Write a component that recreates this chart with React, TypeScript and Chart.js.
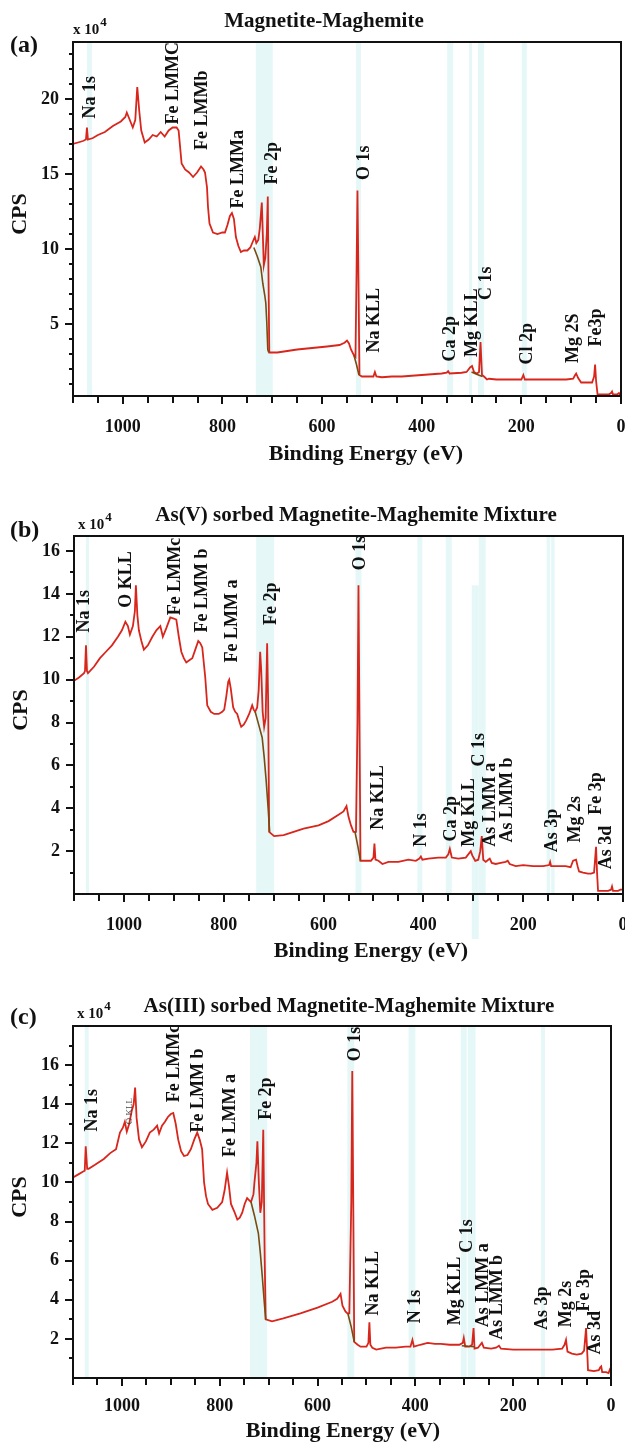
import React, { useEffect, useRef } from "react";
import { Chart, registerables } from "chart.js";

Chart.register(...registerables);

const FONT = "'Liberation Serif', 'Times New Roman', serif";
const RED = "#d8261c";
const BROWN = "#7a4a10";
const BAND = "rgba(222, 244, 246, 0.75)";

// ---------- axis ticks ----------
const X_MAJOR = [0, 200, 400, 600, 800, 1000];
const X_MINOR = [50, 100, 150, 250, 300, 350, 450, 500, 550, 650, 700, 750, 850, 900, 950, 1050, 1100];
const A_Y_MAJOR = [5, 10, 15, 20];
const A_Y_MINOR = [1, 2, 3, 4, 6, 7, 8, 9, 11, 12, 13, 14, 16, 17, 18, 19, 21, 22, 23];
const BC_Y_MAJOR = [2, 4, 6, 8, 10, 12, 14, 16];
const B_Y_MINOR = [1, 3, 5, 7, 9, 11, 13, 15];
const C_Y_MINOR = [1, 3, 5, 7, 9, 11, 13, 15, 17];

// ---------- panel (a) : Magnetite-Maghemite ----------  [binding energy eV, CPS x1e4]
const A_SURVEY = [
  [1100, 17.0], [1090, 17.1], [1080, 17.2], [1074, 17.3], [1072, 18.1], [1070, 17.3], [1060, 17.4], [1050, 17.6],
  [1036, 17.8], [1020, 18.2], [1004, 18.5], [995, 18.8], [992, 19.1], [986, 18.6], [980, 18.1], [975, 18.6],
  [971, 20.8], [967, 19.2], [963, 17.9], [956, 17.1], [948, 17.3], [940, 17.6], [932, 17.5], [924, 17.8],
  [916, 17.5], [908, 17.9], [900, 18.1], [892, 18.1], [888, 17.9], [885, 16.8], [882, 15.7], [875, 15.3],
  [867, 15.1], [859, 14.8], [851, 15.1], [843, 15.5], [838, 15.3], [835, 15.1], [831, 14.1], [829, 12.8],
  [826, 11.7], [819, 11.1], [810, 11.0], [800, 11.1], [795, 11.1], [790, 11.6], [785, 12.2], [781, 12.4],
  [777, 12.0], [773, 10.8], [768, 10.2], [763, 9.8], [757, 9.9], [750, 9.9], [744, 10.1], [739, 10.5],
  [735, 10.8], [732, 10.4], [728, 10.6], [725, 11.4], [721, 13.1], [719, 11.0], [717, 8.9], [714, 9.4],
  [711, 11.0], [709, 13.5], [707.5, 8.0], [706, 3.1], [700, 3.1], [690, 3.1], [680, 3.15], [650, 3.3],
  [620, 3.4], [590, 3.5], [565, 3.6], [555, 3.75], [550, 3.9], [546, 3.7], [542, 3.3], [536, 2.9],
  [533, 2.8], [531, 8.0], [529, 13.9], [527, 8.0], [525, 1.6], [520, 1.5], [505, 1.5], [497, 1.5],
  [494, 1.8], [491, 1.5], [480, 1.45], [460, 1.5], [440, 1.5], [420, 1.55], [400, 1.6], [380, 1.65],
  [360, 1.7], [350, 1.75], [347, 1.85], [344, 1.7], [320, 1.75], [310, 1.8], [303, 2.1], [299, 2.2],
  [295, 1.8], [289, 1.7], [285, 1.8], [282, 3.8], [279, 1.6], [275, 1.5], [269, 1.3], [265, 1.35],
  [250, 1.3], [220, 1.3], [200, 1.3], [196, 1.6], [193, 1.3], [170, 1.3], [140, 1.3], [110, 1.3],
  [96, 1.35], [92, 1.6], [90, 1.7], [86, 1.4], [80, 1.1], [70, 1.1], [58, 1.1], [54, 1.5],
  [52, 2.3], [50, 1.2], [47, 0.3], [40, 0.3], [25, 0.3], [20, 0.4], [18, 0.5], [16, 0.3],
  [8, 0.3], [4, 0.4], [2, 0.3], [0, 0.3],
];
const A_BG_FE = [[737, 10.1], [730, 9.5], [723, 8.8], [719, 7.7], [715, 6.9], [713, 6.4], [711, 5.1], [709, 3.3], [707, 3.1]];
const A_BG_O = [[536, 2.9], [531, 2.3], [526, 1.6]];
const A_BG_C = [[300, 1.8], [290, 1.65], [278, 1.5]];
const A_BANDS = [[1072, 1062], [733, 699], [532, 522], [349, 337], [305, 299], [287, 275], [199, 189]];
const A_LABELS = ["Na 1s", "Fe LMMC", "Fe LMMb", "Fe LMMa", "Fe 2p", "O 1s", "Na KLL", "Ca 2p", "Mg KLL", "C 1s", "Cl 2p", "Mg 2S", "Fe3p"];
const A_LABEL_EV = [1066, 898, 841, 769, 699, 516, 496, 343, 299, 271, 187, 96, 50];
const A_LABEL_CPS = [18.7, 18.3, 16.6, 12.7, 14.3, 14.6, 3.1, 2.5, 2.8, 6.6, 2.3, 2.4, 3.5];

// ---------- panel (b) : As(V) sorbed ----------
const B_SURVEY = [
  [1100, 9.95], [1090, 10.1], [1080, 10.3], [1078, 10.4], [1076, 11.6], [1074, 10.4], [1072, 10.3], [1060, 10.6],
  [1048, 11.0], [1036, 11.3], [1024, 11.6], [1012, 12.0], [1004, 12.3], [997, 12.7], [992, 12.5], [988, 12.1],
  [982, 12.5], [978, 13.2], [976, 14.4], [973, 13.0], [970, 12.3], [965, 11.8], [960, 11.4], [952, 11.6],
  [943, 12.0], [935, 12.3], [927, 12.5], [922, 12.0], [915, 12.4], [907, 12.9], [900, 12.85], [895, 12.8],
  [890, 12.0], [885, 11.3], [880, 11.0], [875, 10.8], [869, 10.9], [863, 11.0], [857, 11.4], [851, 11.8],
  [847, 11.7], [843, 11.5], [840, 10.8], [837, 10.1], [833, 8.8], [826, 8.5], [819, 8.4], [810, 8.4],
  [803, 8.5], [799, 8.6], [795, 9.2], [791, 9.9], [789, 10.0], [786, 9.6], [781, 8.7], [777, 8.5],
  [773, 8.4], [768, 8.0], [765, 7.8], [760, 7.9], [755, 8.1], [749, 8.4], [743, 8.8], [740, 8.6],
  [737, 8.5], [733, 8.7], [730, 9.5], [727, 11.3], [725, 10.5], [722, 8.5], [719, 7.8], [716, 8.2],
  [713, 11.7], [711, 9.0], [709, 2.9], [699, 2.7], [680, 2.75], [660, 2.9], [640, 3.05], [610, 3.2],
  [590, 3.4], [570, 3.7], [560, 3.85], [554, 4.1], [550, 3.6], [545, 3.2], [540, 2.9], [535, 2.9],
  [532, 8.0], [530, 14.4], [528, 8.0], [526, 1.55], [515, 1.55], [505, 1.55], [500, 1.7], [498, 2.35],
  [496, 1.6], [490, 1.55], [482, 1.4], [470, 1.5], [450, 1.5], [430, 1.6], [415, 1.55], [408, 1.65],
  [405, 1.75], [402, 1.6], [390, 1.65], [370, 1.7], [355, 1.7], [350, 1.85], [347, 2.1], [343, 1.7],
  [330, 1.65], [315, 1.7], [305, 2.0], [302, 1.8], [296, 1.55], [290, 1.6], [286, 2.0], [283, 2.7],
  [280, 1.6], [275, 1.5], [270, 1.6], [267, 1.65], [263, 1.45], [255, 1.4], [245, 1.45], [235, 1.5],
  [231, 1.55], [227, 1.4], [215, 1.3], [200, 1.35], [180, 1.3], [160, 1.3], [148, 1.35], [146, 1.5],
  [144, 1.3], [130, 1.3], [115, 1.3], [105, 1.25], [100, 1.55], [94, 1.6], [91, 1.3], [88, 1.05],
  [80, 1.0], [70, 0.95], [64, 0.95], [58, 1.0], [56, 1.6], [54, 2.2], [52, 1.0], [50, 0.15],
  [40, 0.15], [30, 0.15], [24, 0.2], [22, 0.35], [20, 0.15], [10, 0.15], [5, 0.2], [0, 0.2],
];
const B_BG_FE = [[737, 8.5], [730, 7.9], [723, 7.3], [719, 6.4], [715, 5.3], [711, 4.0], [708, 2.9]];
const B_BG_O = [[537, 2.9], [531, 2.2], [526, 1.55]];
// [from eV, to eV, optional top CPS, optional bottom CPS]
const B_BANDS = [[1076, 1070], [735, 699], [536, 524], [412, 402], [355, 343], [289, 275], [303, 289, 14.4, -2.1], [153, 146], [144, 137]];
const B_LABELS = ["Na 1s", "O KLL", "Fe LMMc", "Fe LMM b", "Fe LMM a", "Fe 2p", "O 1s", "Na KLL", "N 1s", "Ca 2p", "Mg KLL", "C 1s", "As LMM a", "As LMM b", "As 3p", "Mg 2s", "Fe 3p", "As 3d"];
const B_LABEL_EV = [1080, 996, 896, 843, 783, 705, 526, 490, 404, 343, 307, 287, 265, 231, 141, 96, 54, 34];
const B_LABEL_CPS = [12.2, 13.35, 13.0, 12.2, 10.8, 12.55, 15.1, 3.0, 2.2, 2.45, 2.2, 5.95, 2.2, 2.4, 1.95, 2.4, 3.7, 1.15];

// ---------- panel (c) : As(III) sorbed ----------
const C_SURVEY = [
  [1100, 10.25], [1090, 10.4], [1080, 10.55], [1076, 10.6], [1074, 11.85], [1071, 10.7], [1068, 10.7], [1055, 10.9],
  [1037, 11.2], [1024, 11.5], [1012, 11.7], [1004, 12.55], [998, 12.8], [994, 13.1], [990, 12.6], [985, 13.0],
  [980, 13.65], [976, 14.0], [973, 14.85], [970, 13.3], [965, 12.2], [959, 11.8], [951, 12.1], [943, 12.55],
  [935, 12.7], [928, 12.9], [924, 12.5], [918, 12.9], [912, 13.1], [906, 13.35], [900, 13.5], [895, 13.55],
  [890, 13.0], [885, 12.2], [879, 11.6], [873, 11.35], [866, 11.4], [859, 11.7], [852, 12.2], [846, 12.55],
  [841, 12.2], [836, 11.7], [832, 10.0], [828, 9.3], [824, 8.9], [815, 8.6], [805, 8.7], [795, 9.0],
  [790, 9.6], [785, 10.5], [781, 9.8], [777, 8.9], [770, 8.5], [764, 8.1], [759, 8.2], [754, 8.45],
  [749, 8.9], [744, 9.2], [740, 9.1], [736, 9.0], [731, 9.4], [729, 10.0], [725, 11.0], [723, 12.1],
  [720, 10.0], [717, 8.45], [714, 9.0], [711, 12.7], [708, 6.0], [706, 3.0], [693, 2.9], [670, 3.05],
  [635, 3.3], [600, 3.6], [570, 3.9], [560, 4.05], [553, 4.3], [549, 3.7], [543, 3.4], [539, 3.3],
  [535, 3.3], [531, 9.0], [529, 15.7], [527, 9.0], [525, 1.85], [518, 1.7], [512, 1.6], [500, 1.6],
  [496, 1.8], [494, 2.85], [492, 1.7], [488, 1.55], [480, 1.45], [460, 1.55], [440, 1.55], [420, 1.6],
  [410, 1.6], [406, 1.95], [403, 1.6], [390, 1.7], [375, 1.8], [360, 1.75], [348, 1.75], [330, 1.7],
  [310, 1.7], [303, 1.8], [301, 2.05], [298, 1.6], [290, 1.6], [284, 1.7], [281, 2.55], [279, 1.5],
  [272, 1.55], [264, 1.8], [260, 1.55], [245, 1.5], [235, 1.55], [229, 1.65], [225, 1.5], [200, 1.45],
  [170, 1.45], [140, 1.45], [120, 1.45], [100, 1.5], [95, 1.7], [92, 1.95], [89, 1.35], [80, 1.25],
  [70, 1.2], [60, 1.25], [55, 1.4], [51, 2.55], [48, 1.0], [47, 0.4], [35, 0.35], [25, 0.4],
  [22, 0.55], [20, 0.6], [18, 0.3], [10, 0.3], [5, 0.25], [2, 0.45], [0, 0.4],
];
const C_BG_FE = [[736, 9.0], [729, 8.3], [721, 7.4], [717, 6.4], [713, 5.2], [709, 3.9], [706, 3.0]];
const C_BG_O = [[538, 3.3], [531, 2.6], [525, 1.85]];
const C_BG_C = [[305, 1.65], [292, 1.62], [279, 1.6]];
const C_BANDS = [[1076, 1068], [738, 703], [539, 525], [414, 400], [307, 295], [293, 277], [143, 135]];
const C_LABELS = ["Na 1s", "Fe LMMc", "Fe LMM b", "Fe LMM a", "Fe 2p", "O 1s", "Na KLL", "N 1s", "Mg KLL", "C 1s", "As LMM a", "As LMM b", "As 3p", "Mg 2s", "Fe 3p", "As 3d"];
const C_LABEL_EV = [1061, 893, 844, 779, 705, 523, 486, 400, 318, 293, 260, 232, 141, 92, 55, 31];
const C_LABEL_CPS = [12.6, 14.1, 12.55, 11.3, 13.2, 16.2, 3.2, 2.8, 2.7, 6.4, 2.6, 1.95, 2.45, 2.6, 3.4, 1.2];
const C_SMALL_LABELS = ["O KLL"];
const C_SMALL_EV = [984];
const C_SMALL_CPS = [12.97];

type PanelCfg = {
  key: string;
  top: number;
  height: number;
  padTop: number;
  padRight: number;
  yWidth: number;
  xHeight: number;
  tickPad: number;
  yMin: number;
  yMax: number;
  yMajor: number[];
  yMinor: number[];
  survey: number[][];
  bgs: number[][][];
  bands: number[][];
  labels: string[];
  labelEv: number[];
  labelCps: number[];
  smallLabels?: string[];
  smallEv?: number[];
  smallCps?: number[];
  title: string;
  titleX: number;
  titleY: number;
  letter: string;
  letterY: number;
  expX: number;
  expY: number;
  cpsX: number;
  cpsY: number;
  xTitleX: number;
  xTitleY: number;
};

const PANELS: PanelCfg[] = [
  {
    key: "a", top: 0, height: 480, padTop: 42, padRight: 4, yWidth: 73, xHeight: 84, tickPad: 21,
    yMin: 0.2, yMax: 23.8, yMajor: A_Y_MAJOR, yMinor: A_Y_MINOR,
    survey: A_SURVEY, bgs: [A_BG_FE, A_BG_O, A_BG_C], bands: A_BANDS,
    labels: A_LABELS, labelEv: A_LABEL_EV, labelCps: A_LABEL_CPS,
    title: "Magnetite-Maghemite", titleX: 324, titleY: 22, letter: "(a)", letterY: 46,
    expX: 73, expY: 30, cpsX: 20, cpsY: 214, xTitleX: 366, xTitleY: 454,
  },
  {
    key: "b", top: 480, height: 485, padTop: 56, padRight: 2, yWidth: 74, xHeight: 71, tickPad: 21,
    yMin: 0, yMax: 16.7, yMajor: BC_Y_MAJOR, yMinor: B_Y_MINOR,
    survey: B_SURVEY, bgs: [B_BG_FE, B_BG_O], bands: B_BANDS,
    labels: B_LABELS, labelEv: B_LABEL_EV, labelCps: B_LABEL_CPS,
    title: "As(V) sorbed Magnetite-Maghemite Mixture", titleX: 356, titleY: 36, letter: "(b)", letterY: 51,
    expX: 78, expY: 45, cpsX: 21, cpsY: 230, xTitleX: 371, xTitleY: 471,
  },
  {
    key: "c", top: 965, height: 478, padTop: 61, padRight: 14, yWidth: 73, xHeight: 65, tickPad: 18,
    yMin: 0, yMax: 18, yMajor: BC_Y_MAJOR, yMinor: C_Y_MINOR,
    survey: C_SURVEY, bgs: [C_BG_FE, C_BG_O, C_BG_C], bands: C_BANDS,
    labels: C_LABELS, labelEv: C_LABEL_EV, labelCps: C_LABEL_CPS,
    smallLabels: C_SMALL_LABELS, smallEv: C_SMALL_EV, smallCps: C_SMALL_CPS,
    title: "As(III) sorbed Magnetite-Maghemite Mixture", titleX: 349, titleY: 42, letter: "(c)", letterY: 53,
    expX: 77, expY: 49, cpsX: 20, cpsY: 232, xTitleX: 343, xTitleY: 466,
  },
];

function makeDecor(cfg: PanelCfg) {
  return {
    id: "decor_" + cfg.key,
    beforeDatasetsDraw(chart: any) {
      const { ctx, chartArea: ca, scales } = chart;
      const x = scales.x;
      const y = scales.y;
      ctx.save();
      ctx.fillStyle = BAND;
      for (const b of cfg.bands) {
        const x1 = x.getPixelForValue(b[0]);
        const x2 = x.getPixelForValue(b[1]);
        const yt = b.length > 2 ? y.getPixelForValue(b[2]) : ca.top;
        const yb = b.length > 3 ? y.getPixelForValue(b[3]) : ca.bottom;
        ctx.fillRect(Math.min(x1, x2), yt, Math.abs(x2 - x1), yb - yt);
      }
      ctx.restore();
    },
    afterDraw(chart: any) {
      const { ctx, chartArea: ca, scales } = chart;
      const x = scales.x;
      const y = scales.y;
      ctx.save();
      // frame
      ctx.strokeStyle = "#111";
      ctx.lineWidth = 2;
      ctx.strokeRect(ca.left, ca.top, ca.right - ca.left, ca.bottom - ca.top);
      // ticks
      ctx.beginPath();
      for (const v of X_MAJOR) {
        const px = Math.round(x.getPixelForValue(v));
        ctx.moveTo(px, ca.bottom);
        ctx.lineTo(px, ca.bottom + 8);
      }
      for (const v of X_MINOR) {
        const px = Math.round(x.getPixelForValue(v));
        ctx.moveTo(px, ca.bottom);
        ctx.lineTo(px, ca.bottom + 7);
      }
      for (const v of cfg.yMajor) {
        const py = Math.round(y.getPixelForValue(v));
        ctx.moveTo(ca.left, py);
        ctx.lineTo(ca.left - 8, py);
      }
      for (const v of cfg.yMinor) {
        const py = Math.round(y.getPixelForValue(v));
        ctx.moveTo(ca.left, py);
        ctx.lineTo(ca.left - 4, py);
      }
      ctx.stroke();

      ctx.fillStyle = "#111";
      // peak labels (rotated, reading bottom to top)
      ctx.font = `bold 18px ${FONT}`;
      ctx.textAlign = "left";
      ctx.textBaseline = "middle";
      cfg.labels.forEach((t, i) => {
        const px = x.getPixelForValue(cfg.labelEv[i]);
        const py = y.getPixelForValue(cfg.labelCps[i]);
        ctx.save();
        ctx.translate(px, py);
        ctx.rotate(-Math.PI / 2);
        ctx.fillText(t, 0, 0);
        ctx.restore();
      });
      if (cfg.smallLabels) {
        ctx.font = `9px ${FONT}`;
        ctx.fillStyle = "#444";
        cfg.smallLabels.forEach((t, i) => {
          const px = x.getPixelForValue(cfg.smallEv![i]);
          const py = y.getPixelForValue(cfg.smallCps![i]);
          ctx.save();
          ctx.translate(px, py);
          ctx.rotate(-Math.PI / 2);
          ctx.fillText(t, 0, 0);
          ctx.restore();
        });
        ctx.fillStyle = "#111";
      }
      // title
      ctx.font = `bold 21px ${FONT}`;
      ctx.textAlign = "center";
      ctx.textBaseline = "middle";
      ctx.fillText(cfg.title, cfg.titleX, cfg.titleY);
      // panel letter
      ctx.font = `bold 24px ${FONT}`;
      ctx.textAlign = "left";
      ctx.fillText(cfg.letter, 10, cfg.letterY);
      // exponent
      ctx.font = `bold 15px ${FONT}`;
      ctx.fillText("x 10", cfg.expX, cfg.expY);
      const w = ctx.measureText("x 10").width;
      ctx.font = `bold 13px ${FONT}`;
      ctx.fillText("4", cfg.expX + w + 1, cfg.expY - 7);
      // axis titles
      ctx.font = `bold 22px ${FONT}`;
      ctx.textAlign = "center";
      ctx.fillText("Binding Energy (eV)", cfg.xTitleX, cfg.xTitleY);
      ctx.save();
      ctx.translate(cfg.cpsX, cfg.cpsY);
      ctx.rotate(-Math.PI / 2);
      ctx.fillText("CPS", 0, 0);
      ctx.restore();
      ctx.restore();
    },
  };
}

function Panel({ cfg }: { cfg: PanelCfg }) {
  const ref = useRef<HTMLCanvasElement | null>(null);
  useEffect(() => {
    if (!ref.current) return;
    const toPts = (arr: number[][]) => arr.map((p) => ({ x: p[0], y: p[1] }));
    const datasets: any[] = cfg.bgs.map((bg) => ({
      data: toPts(bg),
      borderColor: BROWN,
      borderWidth: 1.6,
      pointRadius: 0,
      tension: 0,
      fill: false,
    }));
    datasets.push({
      data: toPts(cfg.survey),
      borderColor: RED,
      borderWidth: 1.8,
      pointRadius: 0,
      tension: 0,
      fill: false,
    });
    const tickFont = { family: FONT, size: 18, weight: "bold" as const };
    const chart = new Chart(ref.current, {
      type: "line",
      data: { datasets },
      options: {
        responsive: false,
        animation: false,
        events: [],
        layout: { padding: { left: 0, top: cfg.padTop, right: cfg.padRight, bottom: 0 } },
        plugins: { legend: { display: false }, tooltip: { enabled: false }, title: { display: false } },
        scales: {
          x: {
            type: "linear",
            reverse: true,
            min: 0,
            max: 1100,
            grid: { display: false, drawTicks: false, tickLength: 0 },
            border: { display: false },
            afterBuildTicks: (s: any) => {
              s.ticks = X_MAJOR.map((v) => ({ value: v }));
            },
            afterFit: (s: any) => {
              s.height = cfg.xHeight;
              s.paddingLeft = 0;
              s.paddingRight = 0;
            },
            ticks: {
              autoSkip: false,
              maxRotation: 0,
              padding: cfg.tickPad,
              color: "#111",
              font: tickFont,
              callback: (v: any) => String(v),
            },
          },
          y: {
            type: "linear",
            min: cfg.yMin,
            max: cfg.yMax,
            grid: { display: false, drawTicks: false, tickLength: 0 },
            border: { display: false },
            afterBuildTicks: (s: any) => {
              s.ticks = cfg.yMajor.map((v) => ({ value: v }));
            },
            afterFit: (s: any) => {
              s.width = cfg.yWidth;
              s.paddingTop = 0;
              s.paddingBottom = 0;
            },
            ticks: {
              autoSkip: false,
              padding: 14,
              color: "#111",
              font: tickFont,
              callback: (v: any) => String(v),
            },
          },
        },
      } as any,
      plugins: [makeDecor(cfg)],
    });
    return () => chart.destroy();
  }, [cfg]);
  return (
    <canvas
      ref={ref}
      width={625}
      height={cfg.height}
      style={{ position: "absolute", left: 0, top: cfg.top, width: 625, height: cfg.height, display: "block" }}
    />
  );
}

export default function App() {
  return (
    <div style={{ position: "absolute", left: 0, top: 0, width: 625, height: 1443, background: "#fff", overflow: "hidden" }}>
      {PANELS.map((p) => (
        <Panel key={p.key} cfg={p} />
      ))}
    </div>
  );
}
